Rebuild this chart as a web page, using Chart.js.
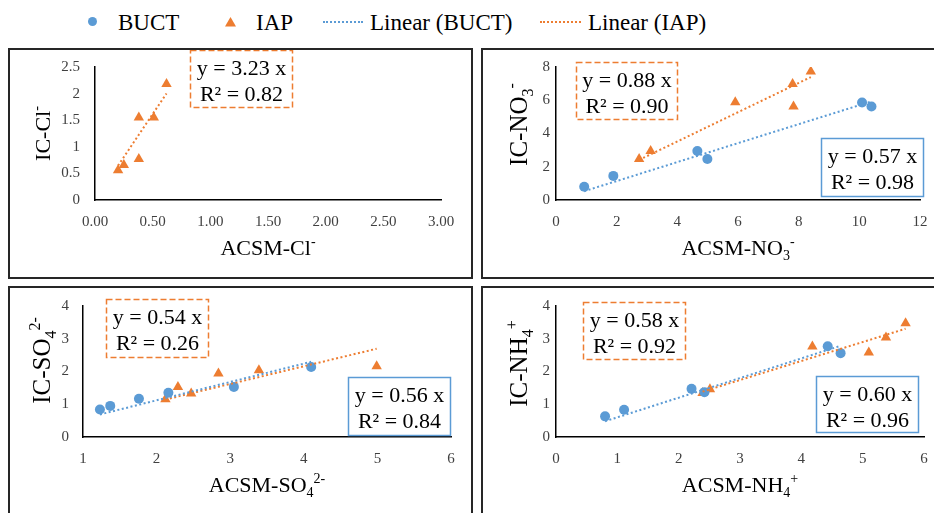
<!DOCTYPE html>
<html>
<head>
<meta charset="utf-8">
<script src="https://cdn.jsdelivr.net/npm/chart.js@4.4.1/dist/chart.umd.min.js"></script>
<style>
  body { margin: 0; width: 934px; height: 513px; overflow: hidden; background: #fff; position: relative;
         font-family: "Liberation Serif", "Times New Roman", Tinos, "DejaVu Serif", serif; }
  .panel { position: absolute; border: 2px solid #262626; box-sizing: border-box; background: #fff; overflow: hidden; }
  .panel canvas { display: block; }
  .leg { position: absolute; font-size: 23px; line-height: 23px; color: #000; white-space: nowrap; }
  .dots { position: absolute; height: 0; border-top: 2px dotted; }
</style>
</head>
<body>

<div class="leg" style="left:88px;top:17px;width:9px;height:9px;border-radius:50%;background:#5B9BD5"></div>
<div class="leg" style="left:118px;top:11px">BUCT</div>
<svg class="leg" style="left:225px;top:17px" width="11" height="10"><polygon points="5.5,0 11,9.5 0,9.5" fill="#ED7D31"/></svg>
<div class="leg" style="left:256px;top:11px">IAP</div>
<div class="dots" style="left:323px;top:21px;width:40px;border-color:#5B9BD5"></div>
<div class="leg" style="left:370px;top:11px">Linear (BUCT)</div>
<div class="dots" style="left:540px;top:21px;width:41px;border-color:#ED7D31"></div>
<div class="leg" style="left:588px;top:11px">Linear (IAP)</div>

<div class="panel" style="left:8px;top:48px;width:465px;height:231px"><canvas id="cl" width="461" height="227"></canvas></div>
<div class="panel" style="left:481px;top:48px;width:460px;height:231px"><canvas id="no3" width="456" height="227"></canvas></div>
<div class="panel" style="left:8px;top:286px;width:465px;height:240px"><canvas id="so4" width="461" height="236"></canvas></div>
<div class="panel" style="left:481px;top:286px;width:460px;height:240px"><canvas id="nh4" width="456" height="236"></canvas></div>

<script>
// ---- data ----
// Cl- (only IAP)
const clIapX = [0.20, 0.25, 0.38, 0.38, 0.51, 0.62];
const clIapY = [0.56, 0.66, 1.55, 0.77, 1.55, 2.18];
const clIapFit = [3.23, 0.82];

// NO3-
const no3BuctX = [0.93, 1.89, 4.66, 4.99, 10.09, 10.40];
const no3BuctY = [0.80, 1.45, 2.95, 2.47, 5.86, 5.62];
const no3IapX = [2.74, 3.12, 5.91, 7.80, 7.83, 8.40];
const no3IapY = [2.47, 2.95, 5.88, 6.97, 5.62, 7.73];
const no3BuctFit = [0.57, 0.98];
const no3IapFit = [0.88, 0.90];

// SO4 2-
const so4BuctX = [1.23, 1.37, 1.76, 2.16, 3.05, 4.10];
const so4BuctY = [0.84, 0.95, 1.17, 1.35, 1.53, 2.14];
const so4IapX = [2.12, 2.29, 2.47, 2.84, 3.39, 4.99];
const so4IapY = [1.15, 1.53, 1.33, 1.94, 2.04, 2.16];
const so4BuctFit = [0.56, 0.84];
const so4IapFit = [0.54, 0.26];

// NH4+
const nh4BuctX = [0.80, 1.11, 2.21, 2.42, 4.43, 4.64];
const nh4BuctY = [0.63, 0.83, 1.47, 1.37, 2.77, 2.56];
const nh4IapX = [2.39, 2.51, 4.18, 5.10, 5.38, 5.70];
const nh4IapY = [1.34, 1.46, 2.76, 2.58, 3.04, 3.47];
const nh4BuctFit = [0.60, 0.96];
const nh4IapFit = [0.58, 0.92];

// axis ranges [min, max, step]
const clXRange = [0, 3, 0.5], clYRange = [0, 2.5, 0.5];
const no3XRange = [0, 12, 2], no3YRange = [0, 8, 2];
const so4XRange = [1, 6, 1], so4YRange = [0, 4, 1];
const nh4XRange = [0, 6, 1], nh4YRange = [0, 4, 1];

// axis titles: [text, 'sub'|'sup'|undefined]
const clXTitle = [["ACSM-Cl"], ["-", "sup"]];
const clYTitle = [["IC-Cl"], ["-", "sup"]];
const no3XTitle = [["ACSM-NO"], ["3", "sub"], ["-", "sup"]];
const no3YTitle = [["IC-NO"], ["3", "sub"], ["-", "sup"]];
const so4XTitle = [["ACSM-SO"], ["4", "sub"], ["2-", "sup"]];
const so4YTitle = [["IC-SO"], ["4", "sub"], ["2-", "sup"]];
const nh4XTitle = [["ACSM-NH"], ["4", "sub"], ["+", "sup"]];
const nh4YTitle = [["IC-NH"], ["4", "sub"], ["+", "sup"]];

const BLUE = "#5B9BD5";
const ORANGE = "#ED7D31";
const FONT = '"Liberation Serif", "Times New Roman", Tinos, "DejaVu Serif", serif';

function drawRich(ctx, segs, x, y, size) {
  const small = Math.round(size * 0.64);
  let w = 0;
  segs.forEach(s => {
    ctx.font = (s[1] ? small : size) + "px " + FONT;
    w += ctx.measureText(s[0]).width;
  });
  let cx = x - w / 2;
  segs.forEach(s => {
    ctx.font = (s[1] ? small : size) + "px " + FONT;
    const dy = s[1] === "sup" ? -size * 0.42 : s[1] === "sub" ? size * 0.22 : 0;
    ctx.fillText(s[0], cx, y + dy);
    cx += ctx.measureText(s[0]).width;
  });
}

function fitBox(ctx, fit, box, color, dashed) {
  const [l, t, w, h] = box;
  ctx.save();
  ctx.fillStyle = "#fff";
  ctx.fillRect(l, t, w, h);
  ctx.strokeStyle = color;
  ctx.lineWidth = 1.5;
  ctx.setLineDash(dashed ? [6, 3] : []);
  ctx.strokeRect(l + 0.5, t + 0.5, w - 1, h - 1);
  ctx.setLineDash([]);
  ctx.fillStyle = "#000";
  ctx.font = "22px " + FONT;
  ctx.textAlign = "center";
  ctx.textBaseline = "alphabetic";
  ctx.fillText("y = " + fit[0].toFixed(2) + " x", l + w / 2, t + 25);
  ctx.fillText("R\u00B2 = " + fit[1].toFixed(2), l + w / 2, t + 51);
  ctx.restore();
}

function makePanel(id, p) {
  const datasets = [];
  p.series.forEach(s => {
    datasets.push({
      label: s.name,
      data: s.x.map((x, i) => ({ x: x, y: s.y[i] })),
      pointStyle: s.marker,
      pointRadius: s.marker === "triangle" ? 6 : 5,
      backgroundColor: s.color,
      borderColor: s.color,
      borderWidth: 0,
      order: 1,
    });
    const x0 = Math.min(...s.x), x1 = Math.max(...s.x);
    datasets.push({
      label: "Linear (" + s.name + ")",
      data: [{ x: x0, y: s.fit[0] * x0 }, { x: x1, y: s.fit[0] * x1 }],
      showLine: true,
      borderColor: s.color,
      borderWidth: 2,
      borderDash: [2, 2.5],
      pointRadius: 0,
      order: 0,
    });
  });

  const [al, at, ar, ab] = p.area;
  const canvas = document.getElementById(id);
  const H = canvas.height, W = canvas.width;

  const textPlugin = {
    id: "panelText",
    afterDraw(chart) {
      const ctx = chart.ctx;
      const ca = chart.chartArea;
      ctx.save();
      ctx.fillStyle = "#000";
      ctx.textAlign = "left";
      ctx.textBaseline = "alphabetic";
      drawRich(ctx, p.xTitle, (ca.left + ca.right) / 2, ca.bottom + 55, 22);
      ctx.translate(ca.left - p.yTitleGap, (ca.top + ca.bottom) / 2 - p.yTitleShift);
      ctx.rotate(-Math.PI / 2);
      drawRich(ctx, p.yTitle, 0, 0, p.yTitleSize);
      ctx.restore();
      p.series.forEach(s => fitBox(ctx, s.fit, s.box, s.color, s.name === "IAP"));
    },
  };

  new Chart(canvas, {
    type: "scatter",
    data: { datasets: datasets },
    options: {
      responsive: false,
      animation: false,
      devicePixelRatio: 1,
      layout: { padding: { left: 0, top: at, right: W - ar, bottom: 0 } },
      plugins: { legend: { display: false }, tooltip: { enabled: false } },
      scales: {
        x: {
          type: "linear",
          min: p.xr[0], max: p.xr[1],
          grid: { display: false, drawTicks: false },
          border: { display: true, color: "#000", width: 1.5 },
          ticks: {
            stepSize: p.xr[2], padding: 13, color: "#404040",
            font: { family: FONT, size: 15 },
            callback: v => p.xFmt ? v.toFixed(p.xFmt) : String(v),
          },
          afterFit: s => { s.height = H - ab; s.paddingLeft = 0; s.paddingRight = 0; },
        },
        y: {
          type: "linear",
          min: p.yr[0], max: p.yr[1],
          grid: { display: false, drawTicks: false },
          border: { display: true, color: "#000", width: 1.5 },
          ticks: {
            stepSize: p.yr[2], padding: p.yGap, color: "#404040",
            font: { family: FONT, size: 15 },
            callback: v => String(v),
          },
          afterFit: s => { s.width = al; s.paddingTop = 0; s.paddingBottom = 0; },
        },
      },
    },
    plugins: [textPlugin],
  });
}

makePanel("cl", {
  area: [85, 17, 431, 150], yGap: 15, yTitleGap: 45, yTitleSize: 22, yTitleShift: 0, xFmt: 2,
  xr: clXRange, yr: clYRange, xTitle: clXTitle, yTitle: clYTitle,
  series: [
    { name: "IAP", x: clIapX, y: clIapY, fit: clIapFit, color: ORANGE, marker: "triangle", box: [180, 0, 103, 58] },
  ],
});

makePanel("no3", {
  area: [73, 17, 437, 150], yGap: 6, yTitleGap: 29, yTitleSize: 25, yTitleShift: 9,
  xr: no3XRange, yr: no3YRange, xTitle: no3XTitle, yTitle: no3YTitle,
  series: [
    { name: "BUCT", x: no3BuctX, y: no3BuctY, fit: no3BuctFit, color: BLUE, marker: "circle", box: [338, 88, 103, 59] },
    { name: "IAP", x: no3IapX, y: no3IapY, fit: no3IapFit, color: ORANGE, marker: "triangle", box: [93, 12, 102, 58] },
  ],
});

makePanel("so4", {
  area: [73, 18, 441, 149], yGap: 14, yTitleGap: 33, yTitleSize: 25, yTitleShift: 11,
  xr: so4XRange, yr: so4YRange, xTitle: so4XTitle, yTitle: so4YTitle,
  series: [
    { name: "BUCT", x: so4BuctX, y: so4BuctY, fit: so4BuctFit, color: BLUE, marker: "circle", box: [338, 89, 103, 59] },
    { name: "IAP", x: so4IapX, y: so4IapY, fit: so4IapFit, color: ORANGE, marker: "triangle", box: [96, 11, 103, 59] },
  ],
});

makePanel("nh4", {
  area: [73, 18, 441, 149], yGap: 6, yTitleGap: 29, yTitleSize: 25, yTitleShift: 8,
  xr: nh4XRange, yr: nh4YRange, xTitle: nh4XTitle, yTitle: nh4YTitle,
  series: [
    { name: "BUCT", x: nh4BuctX, y: nh4BuctY, fit: nh4BuctFit, color: BLUE, marker: "circle", box: [333, 88, 103, 57] },
    { name: "IAP", x: nh4IapX, y: nh4IapY, fit: nh4IapFit, color: ORANGE, marker: "triangle", box: [100, 14, 103, 58] },
  ],
});
</script>
</body>
</html>
